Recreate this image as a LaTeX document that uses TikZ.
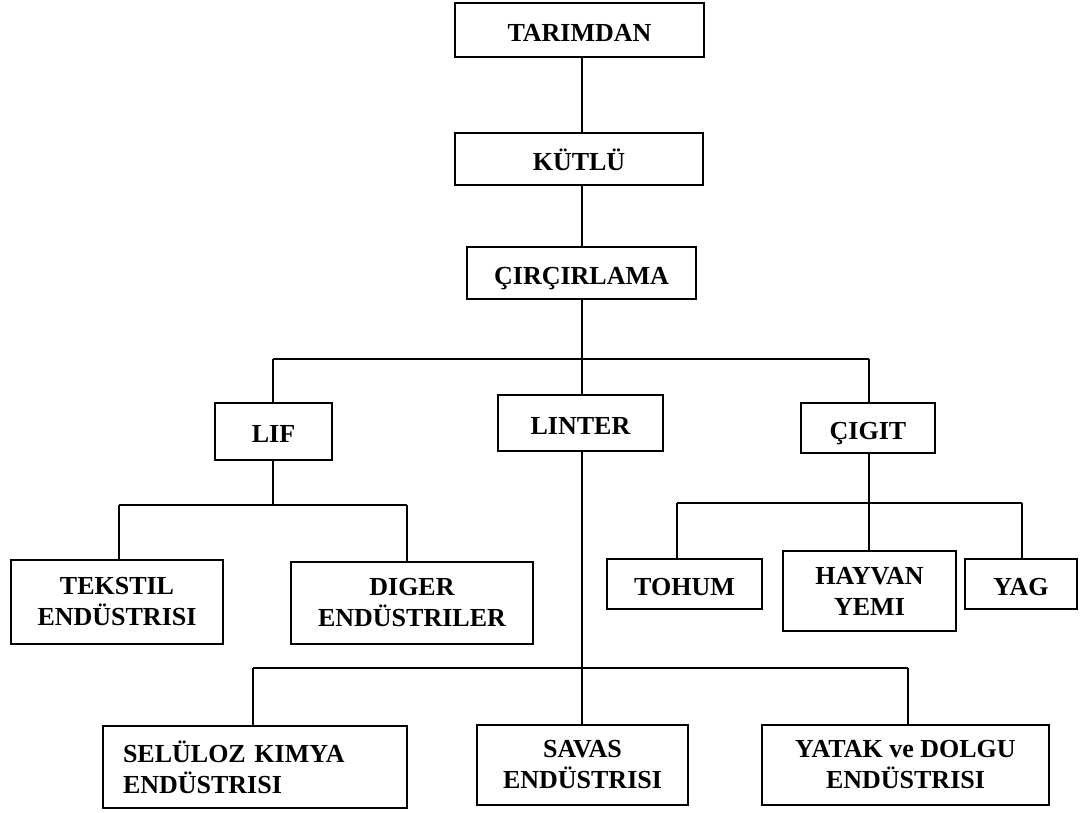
\documentclass[tikz,border=0pt]{standalone}
\usepackage{fontspec}
\setmainfont{Liberation Serif}
\begin{document}
\begin{tikzpicture}[x=1pt,y=-1pt,
  box/.style={draw, line width=1.5pt, inner sep=0pt, align=center,
    font=\bfseries\fontsize{26}{31}\selectfont},
  one/.style={text height=22pt, text depth=0pt},
  sz/.style 2 args={minimum width=#1pt, minimum height=#2pt},
  conn/.style={line width=1.5pt}]
\useasboundingbox (0,0) rectangle (1082,812);
% main chain
\node[box, one, sz={249}{54}] (tar) at (579.5,30) {TARIMDAN};
\node[box, one, sz={248}{52}] (kut) at (579,159) {KÜTLÜ};
\node[box, one, sz={229}{52}] (cir) at (581.5,273) {ÇIRÇIRLAMA};
% second level
\node[box, one, sz={117}{57}] (lif) at (273.5,431.5) {LIF};
\node[box, one, sz={165}{56}] (lin) at (580.5,423) {LINTER};
\node[box, one, sz={134}{50}] (cig) at (868,428) {ÇIGIT};
% LIF children
\node[box, sz={212}{84}] (tek) at (117,602) {TEKSTIL\\ENDÜSTRISI};
\node[box, sz={242}{82}] (dig) at (412,603) {DIGER\\ENDÜSTRILER};
% ÇIGIT children
\node[box, one, sz={155}{50}] (toh) at (684.5,584) {TOHUM};
\node[box, sz={173}{80}] (hay) at (869.5,591) {HAYVAN\\YEMI};
\node[box, one, sz={112}{50}] (yag) at (1021,584) {YAG};
% LINTER children
\node[box, sz={304}{82}, text width=264pt, align=left] (sel) at (255,767) {SELÜLOZ KIMYA\\ENDÜSTRISI};
\node[box, sz={211}{80}] (sav) at (582.5,765) {SAVAS\\ENDÜSTRISI};
\node[box, sz={287}{80}] (yat) at (905.5,765) {YATAK ve DOLGU\\ENDÜSTRISI};
% bus coordinates
\coordinate (s0) at (582,0);
\coordinate (b1) at (582,359);
\coordinate (b1l) at (273,359);
\coordinate (b1r) at (869,359);
\coordinate (b2) at (273,505);
\coordinate (b2l) at (119,505);
\coordinate (b2r) at (407,505);
\coordinate (b3) at (869,503);
\coordinate (b3l) at (677,503);
\coordinate (b3r) at (1022,503);
\coordinate (b4) at (582,668);
\coordinate (b4l) at (253,668);
\coordinate (b4r) at (908,668);
% connectors
\draw[conn] (tar.south -| s0) -- (kut.north -| s0);
\draw[conn] (kut.south -| s0) -- (cir.north -| s0);
\draw[conn] (cir.south -| s0) -- (b1);
\draw[conn] (b1l) -- (b1r);
\draw[conn] (b1l) -- (lif.north -| b1l);
\draw[conn] (b1) -- (lin.north -| b1);
\draw[conn] (b1r) -- (cig.north -| b1r);
% LIF
\draw[conn] (lif.south -| b2) -- (b2);
\draw[conn] (b2l) -- (b2r);
\draw[conn] (b2l) -- (tek.north -| b2l);
\draw[conn] (b2r) -- (dig.north -| b2r);
% ÇIGIT
\draw[conn] (cig.south -| b3) -- (b3);
\draw[conn] (b3l) -- (b3r);
\draw[conn] (b3l) -- (toh.north -| b3l);
\draw[conn] (b3) -- (hay.north -| b3);
\draw[conn] (b3r) -- (yag.north -| b3r);
% LINTER
\draw[conn] (lin.south -| b4) -- (b4);
\draw[conn] (b4l) -- (b4r);
\draw[conn] (b4l) -- (sel.north -| b4l);
\draw[conn] (b4) -- (sav.north -| b4);
\draw[conn] (b4r) -- (yat.north -| b4r);
\end{tikzpicture}
\end{document}
